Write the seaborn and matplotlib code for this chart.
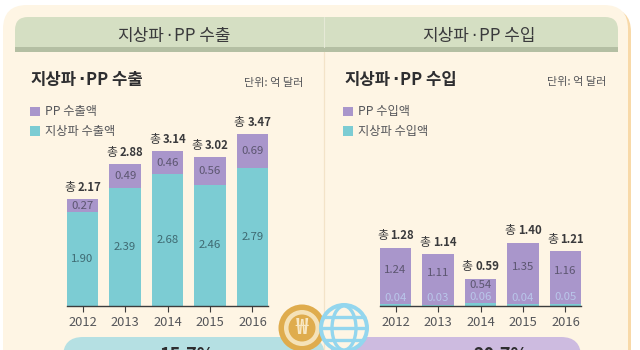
import matplotlib
matplotlib.use("Agg")
import matplotlib.pyplot as plt
from matplotlib.patches import FancyBboxPatch, Rectangle, Circle, Ellipse
import seaborn as sns
import pandas as pd

sns.set_theme(style="white")
plt.rcParams['font.family'] = ['Noto Sans CJK KR', 'DejaVu Sans']
NARROW = ['Liberation Sans Narrow', 'Noto Sans CJK KR']

years = ["2012", "2013", "2014", "2015", "2016"]
export_terrestrial = [1.90, 2.39, 2.68, 2.46, 2.79]
export_pp = [0.27, 0.49, 0.46, 0.56, 0.69]
export_total = [2.17, 2.88, 3.14, 3.02, 3.47]
import_terrestrial = [0.04, 0.03, 0.06, 0.04, 0.05]
import_pp = [1.24, 1.11, 0.54, 1.35, 1.16]
import_total = [1.28, 1.14, 0.59, 1.40, 1.21]

PURPLE = "#A996CB"
TEAL = "#7CCCD3"
CREAM = "#FEF5E4"
INK = "#3A3A3C"
GREY = "#55565A"
BLUE = "#93D6EE"

W, H = 640, 350
fig = plt.figure(figsize=(W / 100, H / 100), dpi=100, facecolor="white")
bg = fig.add_axes([0, 0, 1, 1], zorder=0)
bg.set_xlim(0, W)
bg.set_ylim(H, 0)
bg.axis("off")

# panel
bg.add_patch(FancyBboxPatch((6, 8), 625, 420, boxstyle="round,pad=0,rounding_size=24",
                            fc="#F8D9A8", ec="none"))
bg.add_patch(FancyBboxPatch((3, 5), 625, 420, boxstyle="round,pad=0,rounding_size=24",
                            fc=CREAM, ec="none"))
# header
bg.add_patch(FancyBboxPatch((15, 17), 603, 60, boxstyle="round,pad=0,rounding_size=13",
                            fc="#D5DFC3", ec="none"))
bg.add_patch(Rectangle((15, 47), 603, 5, fc="#B4BFA3", ec="none"))
bg.add_patch(Rectangle((14, 52), 605, 30, fc=CREAM, ec="none"))
bg.plot([324, 324], [17, 47], color="#E6E9D6", lw=0.8)
bg.plot([324, 324], [52, 350], color="#F3E3C8", lw=0.9)


def heading(x, y, left, right, size, weight, color):
    """Draw 'left · right' with a narrow dot, as the reference sets it."""
    rend = fig.canvas.get_renderer()
    a = bg.text(x, y, left, ha="left", va="center", fontsize=size, fontweight=weight, color=color)
    w1 = a.get_window_extent(rend).width
    d = bg.text(x + w1 + size * 0.42, y, "·", ha="center", va="center", fontsize=size,
                fontweight=weight, color=color, family="DejaVu Sans")
    b = bg.text(x + w1 + size * 0.84, y, right, ha="left", va="center", fontsize=size,
                fontweight=weight, color=color)
    return a, d, b


heading(117, 36, "지상파", "PP 수출", 12.2, "medium", INK)
heading(422, 36, "지상파", "PP 수입", 12.2, "medium", INK)
heading(30, 80, "지상파", "PP 수출", 12, "bold", "#2E2E30")
heading(344, 80, "지상파", "PP 수입", 12, "bold", "#2E2E30")
bg.text(303, 83, "단위: 억 달러", ha="right", va="center", fontsize=8, color=GREY)
bg.text(606, 82, "단위: 억 달러", ha="right", va="center", fontsize=8, color=GREY)

# legends
for x0, top, bottom in [(30, "PP 수출액", "지상파 수출액"), (343, "PP 수입액", "지상파 수입액")]:
    bg.add_patch(Rectangle((x0, 106.5), 9.5, 9.5, fc=PURPLE, ec="none"))
    bg.add_patch(Rectangle((x0, 126), 9.5, 9.5, fc=TEAL, ec="none"))
    bg.text(x0 + 15, 111, top, ha="left", va="center", fontsize=8.8, color=GREY)
    bg.text(x0 + 15, 131, bottom, ha="left", va="center", fontsize=8.8, color=GREY)

# pills
bg.add_patch(FancyBboxPatch((63, 337), 262, 60, boxstyle="round,pad=0,rounding_size=20",
                            fc="#B5E0E3", ec="none"))
bg.add_patch(FancyBboxPatch((330, 337), 251, 60, boxstyle="round,pad=0,rounding_size=20",
                            fc="#CDBBE0", ec="none"))
bg.text(187, 355.5, "15.7%", ha="center", va="center", fontsize=13, fontweight="bold", color="#2E2E30")
bg.text(501, 355.5, "20.7%", ha="center", va="center", fontsize=13, fontweight="bold", color="#2E2E30")

# coin
bg.add_patch(Circle((302, 328), 23.5, fc="#DFAC4D", ec="none", zorder=3))
bg.add_patch(Circle((302, 328), 18, fc="#F5E2B8", ec="none", zorder=3))
bg.add_patch(Circle((302, 328), 13.5, fc="#DFAC4D", ec="none", zorder=3))
bg.text(302, 328, "₩", ha="center", va="center", fontsize=15, fontweight="bold", color="#F8E8C4", zorder=4)
# globe
gx, gy = 344, 328
bg.add_patch(Circle((gx, gy), 25, fc=BLUE, ec="none", zorder=5))
disc = Circle((gx, gy), 21, fc=CREAM, ec="none", zorder=6)
bg.add_patch(disc)
mer = Ellipse((gx, gy), 24, 44, fc="none", ec=BLUE, lw=2.4, zorder=7)
bg.add_patch(mer)
for dy in (-11.5, 0, 11.5):
    line, = bg.plot([gx - 23, gx + 23], [gy + dy, gy + dy], color=BLUE, lw=2.4, zorder=7, solid_capstyle="butt")


def px_axes(left, right, bottom, top):
    return fig.add_axes([left / W, 1 - bottom / H, (right - left) / W, (bottom - top) / H], zorder=2)


def draw(ax, base, upper, total, ymax, upper_shift, base_shift):
    df = pd.DataFrame({"year": years, "total": [b + u for b, u in zip(base, upper)], "base": base})
    sns.barplot(data=df, x="year", y="total", color=PURPLE, width=0.73, saturation=1, ax=ax,
                zorder=2, linewidth=0, edgecolor="none")
    sns.barplot(data=df, x="year", y="base", color=TEAL, width=0.73, saturation=1, ax=ax,
                zorder=3, linewidth=0, edgecolor="none")
    ax.set_xlim(-0.365, 4.365)
    ax.set_ylim(0, ymax)
    ax.patch.set_alpha(0)
    ax.set_xlabel("")
    ax.set_ylabel("")
    ax.set_yticks([])
    for s in ("top", "left", "right"):
        ax.spines[s].set_visible(False)
    ax.spines["bottom"].set_color("#3C3C3C")
    ax.spines["bottom"].set_linewidth(1.0)
    ax.spines["bottom"].set_zorder(5)
    ax.tick_params(axis="x", bottom=True, length=4.5, width=0.8, color="#3C3C3C", pad=2.5,
                   labelsize=9.3, labelcolor=GREY)
    for lab in ax.get_xticklabels():
        lab.set_family(NARROW)
    rend = fig.canvas.get_renderer()
    for i, (b, u, t) in enumerate(zip(base, upper, total)):
        ax.annotate(f"{u:.2f}", (i, b + u / 2), xytext=(0, upper_shift), textcoords="offset points",
                    ha="center", va="center", fontsize=8.2, color="#5C5670", zorder=6, family=NARROW)
        if base_shift is None:
            ax.annotate(f"{b:.2f}", (i, b / 2), ha="center", va="center", fontsize=8.2,
                        color="#3F6A72", zorder=6, family=NARROW)
        else:
            ax.annotate(f"{b:.2f}", (i, b), xytext=(0, base_shift), textcoords="offset points",
                        ha="center", va="center", fontsize=8.2, color="#B9C6EA", zorder=6, family=NARROW)
        a = ax.annotate("총", (i, b + u), xytext=(0, 8.6), textcoords="offset points", ha="right",
                        va="center", fontsize=8.6, color=INK, zorder=6)
        n = ax.annotate(f"{t:.2f}", (i, b + u), xytext=(0, 8.6), textcoords="offset points", ha="left",
                        va="center", fontsize=8.2, fontweight="bold", color=INK, zorder=6)
        wa = a.get_window_extent(rend).width
        wn = n.get_window_extent(rend).width
        gap = 2.5
        start = -(wa + gap + wn) / 2
        a.xyann = ((start + wa) * 0.72, 8.6)
        n.xyann = ((start + wa + gap) * 0.72, 8.6)


axl = px_axes(67, 268, 306, 126)
draw(axl, export_terrestrial, export_pp, export_total, 180 / 49.3, 0, None)
axr = px_axes(380, 581, 306, 126)
draw(axr, import_terrestrial, import_pp, import_total, 180 / 45.5, 4.6, 4.8)

fig.canvas.draw()
disc_clip = Circle((gx, gy), 25, transform=bg.transData)
for art in [mer] + [l for l in bg.lines if l.get_color() == BLUE]:
    art.set_clip_path(disc_clip)

fig.savefig("out.png", dpi=100, facecolor="white")
